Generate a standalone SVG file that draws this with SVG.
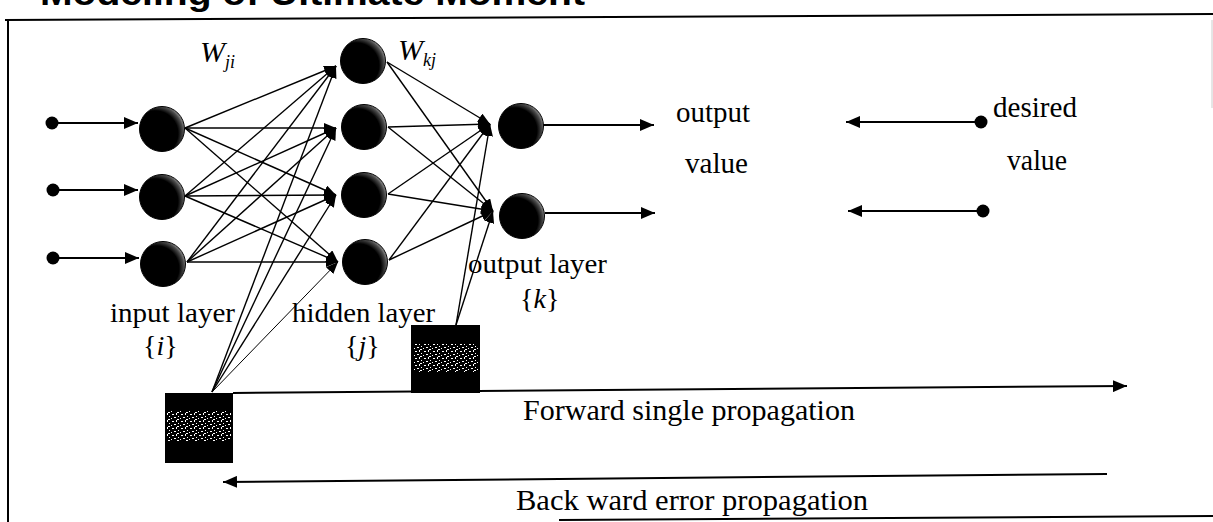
<svg xmlns="http://www.w3.org/2000/svg" width="1213" height="522" viewBox="0 0 1213 522">
<style>
.ln{stroke:#000;stroke-width:1.4;fill:none}
.thk{stroke:#000;stroke-width:2;fill:none}
.fr{stroke:#000;stroke-width:2;fill:none}
.t{font-family:"Liberation Serif","Times New Roman",serif;fill:#000}
.ti{font-family:"Liberation Serif","Times New Roman",serif;font-style:italic;fill:#000}
.neuron{fill:url(#shade);stroke:#000;stroke-width:1}
.box{fill:#000}
.dot{fill:#000}
</style>
<defs>
<radialGradient id="shade" cx="0.35" cy="0.6" r="0.7">
<stop offset="0" stop-color="#000"/>
<stop offset="0.72" stop-color="#000"/>
<stop offset="0.88" stop-color="#4a4a4a"/>
<stop offset="1" stop-color="#b0b0b0"/>
</radialGradient>
<pattern id="speck" width="9" height="7" patternUnits="userSpaceOnUse">
<rect x="1" y="1" width="2" height="1" fill="#fff"/>
<rect x="5" y="0" width="1" height="2" fill="#fff"/>
<rect x="3" y="4" width="2" height="1" fill="#fff"/>
<rect x="7" y="3" width="1" height="1" fill="#fff"/>
<rect x="0" y="5" width="1" height="1" fill="#fff"/>
<rect x="6" y="6" width="2" height="1" fill="#fff"/>
</pattern>
<marker id="ah" viewBox="0 0 12 10" refX="12" refY="5" markerWidth="12" markerHeight="10" markerUnits="userSpaceOnUse" orient="auto">
<path d="M0,0 L12,5 L0,10 z" fill="#000"/>
</marker>
<marker id="ahL" viewBox="0 0 14 12" refX="14" refY="6" markerWidth="14" markerHeight="12" markerUnits="userSpaceOnUse" orient="auto">
<path d="M0,0 L14,6 L0,12 z" fill="#000"/>
</marker>
</defs>
<rect x="0" y="0" width="1213" height="522" fill="#fff"/>

<g id="frame">
<text x="40" y="5" font-family="Liberation Sans, Arial, sans-serif" font-weight="bold" font-size="35" textLength="545" lengthAdjust="spacingAndGlyphs">Modeling of Ultimate Moment</text>
<path class="fr" d="M5,20 L1213,14"/>
<path class="fr" d="M8,20 L8,522"/>
<path class="fr" d="M559,520 L1213,516"/>
<path d="M1212,20 L1212,108" stroke="#ccc" stroke-width="1"/>
</g>

<g id="connectors">
<!-- inputs -->
<path class="thk" d="M52,123 L138,123" marker-end="url(#ahL)"/>
<path class="thk" d="M53,190 L138,190" marker-end="url(#ahL)"/>
<path class="thk" d="M53,258 L139,258" marker-end="url(#ahL)"/>
<!-- input to hidden -->
<path class="ln" d="M185,128 L336,66" marker-end="url(#ah)"/>
<path class="ln" d="M185,128 L336,128" marker-end="url(#ah)"/>
<path class="ln" d="M185,128 L336,195" marker-end="url(#ah)"/>
<path class="ln" d="M185,128 L338,262" marker-end="url(#ah)"/>
<path class="ln" d="M185,196 L336,66" marker-end="url(#ah)"/>
<path class="ln" d="M185,196 L336,128" marker-end="url(#ah)"/>
<path class="ln" d="M185,196 L336,195" marker-end="url(#ah)"/>
<path class="ln" d="M185,196 L338,262" marker-end="url(#ah)"/>
<path class="ln" d="M187,262 L336,66" marker-end="url(#ah)"/>
<path class="ln" d="M187,262 L336,128" marker-end="url(#ah)"/>
<path class="ln" d="M187,262 L336,195" marker-end="url(#ah)"/>
<path class="ln" d="M187,262 L338,262" marker-end="url(#ah)"/>
<!-- bias 1 to hidden -->
<path class="ln" d="M212,392 L336,66" marker-end="url(#ah)"/>
<path class="ln" d="M212,392 L336,128" marker-end="url(#ah)"/>
<path class="ln" d="M212,392 L336,195" marker-end="url(#ah)"/>
<path d="M212,392 L338,262" stroke="#000" stroke-width="1" fill="none" marker-end="url(#ah)"/>
<!-- hidden to output -->
<path class="ln" d="M387,62 L490,124" marker-end="url(#ah)"/>
<path class="ln" d="M387,62 L493,211" marker-end="url(#ah)"/>
<path class="ln" d="M388,127 L490,124" marker-end="url(#ah)"/>
<path class="ln" d="M388,127 L493,211" marker-end="url(#ah)"/>
<path class="ln" d="M388,194 L490,124" marker-end="url(#ah)"/>
<path class="ln" d="M388,194 L493,211" marker-end="url(#ah)"/>
<path class="ln" d="M389,260 L490,124" marker-end="url(#ah)"/>
<path class="ln" d="M389,260 L493,211" marker-end="url(#ah)"/>
<!-- bias 2 to output -->
<path class="ln" d="M456,325 L490,124" marker-end="url(#ah)"/>
<path class="ln" d="M456,325 L493,211" marker-end="url(#ah)"/>
<!-- outputs -->
<path class="thk" d="M543,125 L654,125" marker-end="url(#ahL)"/>
<path class="thk" d="M545,213 L655,213" marker-end="url(#ahL)"/>
<!-- desired -->
<path class="thk" d="M981,122 L846,122" marker-end="url(#ahL)"/>
<path class="thk" d="M983,211 L848,211" marker-end="url(#ahL)"/>
<!-- propagation -->
<path class="thk" d="M233,393 L1127,386" marker-end="url(#ahL)"/>
<path class="thk" d="M1107,474 L223,482" marker-end="url(#ahL)"/>
</g>

<g id="input-dots">
<circle class="dot" cx="52" cy="123" r="6.5"/>
<circle class="dot" cx="53" cy="190" r="6.5"/>
<circle class="dot" cx="53" cy="258" r="6.5"/>
<circle class="dot" cx="981" cy="122" r="6.5"/>
<circle class="dot" cx="983" cy="211" r="6.5"/>
</g>

<g id="input-layer">
<circle class="neuron" cx="162" cy="129" r="22.5"/>
<circle class="neuron" cx="162" cy="197" r="22.5"/>
<circle class="neuron" cx="163" cy="264" r="22.5"/>
<text class="t" x="110" y="322" font-size="28" textLength="125" lengthAdjust="spacingAndGlyphs">input layer</text>
<text class="t" x="143" y="355" font-size="28">{<tspan class="ti">i</tspan>}</text>
</g>

<g id="hidden-layer">
<circle class="neuron" cx="363" cy="61" r="22.5"/>
<circle class="neuron" cx="364" cy="127" r="22.5"/>
<circle class="neuron" cx="364" cy="195" r="22.5"/>
<circle class="neuron" cx="365" cy="262" r="22.5"/>
<text class="t" x="292" y="322" font-size="28" textLength="143" lengthAdjust="spacingAndGlyphs">hidden layer</text>
<text class="t" x="345" y="355" font-size="28">{<tspan class="ti">j</tspan>}</text>
</g>

<g id="output-layer">
<circle class="neuron" cx="521" cy="126" r="22.5"/>
<circle class="neuron" cx="522" cy="216" r="22.5"/>
<text class="t" x="468" y="273" font-size="28" textLength="139" lengthAdjust="spacingAndGlyphs">output layer</text>
<text class="t" x="520" y="308" font-size="28">{<tspan class="ti">k</tspan>}</text>
</g>

<g id="weights">
<text class="ti" x="200" y="62" font-size="30">W<tspan font-size="18" dy="6">ji</tspan></text>
<text class="ti" x="398" y="60" font-size="30">W<tspan font-size="18" dy="6">kj</tspan></text>
</g>

<g id="bias-hidden">
<rect class="box" x="165" y="393" width="68" height="70"/>
<rect x="167" y="411" width="64" height="30" fill="url(#speck)"/>
</g>

<g id="bias-output">
<rect class="box" x="411" y="325" width="69" height="68"/>
<rect x="413" y="344" width="65" height="28" fill="url(#speck)"/>
</g>

<g id="output-value">
<text class="t" x="676" y="122" font-size="29" textLength="74" lengthAdjust="spacingAndGlyphs">output</text>
<text class="t" x="685" y="173" font-size="29" textLength="63" lengthAdjust="spacingAndGlyphs">value</text>
</g>

<g id="desired-value">
<text class="t" x="993" y="117" font-size="29" textLength="84" lengthAdjust="spacingAndGlyphs">desired</text>
<text class="t" x="1007" y="170" font-size="29" textLength="60" lengthAdjust="spacingAndGlyphs">value</text>
</g>

<g id="labels">
<text class="t" x="523" y="420" font-size="29" textLength="332" lengthAdjust="spacingAndGlyphs">Forward single propagation</text>
<text class="t" x="516" y="510" font-size="29" textLength="352" lengthAdjust="spacingAndGlyphs">Back ward error propagation</text>
</g>
</svg>
